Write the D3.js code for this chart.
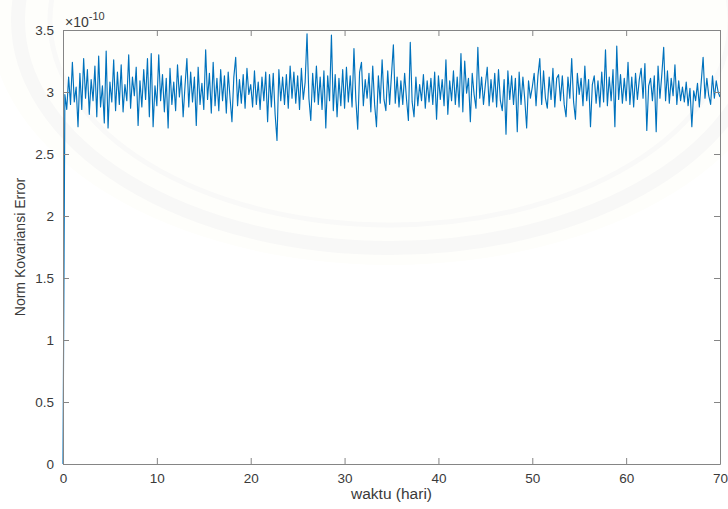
<!DOCTYPE html>
<html>
<head>
<meta charset="utf-8">
<script src="https://cdn.jsdelivr.net/npm/d3@7"></script>
<style>
  html, body { margin: 0; padding: 0; background: #ffffff; }
  svg { display: block; font-family: "Liberation Sans", Arial, Helvetica, sans-serif; }
</style>
</head>
<body>
<svg id="chart" width="728" height="509"></svg>
<script>
// Norm of the error covariance (in units of 1e-10), sampled every 0.2 day from day 0 to day 70.
const timeStep = 0.2;
const errorNorm = [
  0.00, 2.98, 2.86, 3.12, 2.90,
  3.24, 2.92, 3.04, 2.72, 3.15,
  2.86, 3.27, 2.95, 3.18, 2.82,
  3.10, 2.93, 3.21, 2.80, 3.29,
  2.88, 3.05, 2.75, 3.33, 2.71,
  3.08, 2.92, 3.26, 2.85, 3.16,
  2.90, 3.22, 2.84, 3.06, 2.93,
  3.30, 2.87, 3.12, 2.97, 3.20,
  2.73, 3.09, 2.88, 3.18, 2.94,
  3.27, 2.80, 3.31, 2.72, 3.05,
  2.89, 3.30, 2.93, 3.14, 2.84,
  3.11, 2.71, 3.19, 2.90, 3.08,
  2.85, 3.22, 2.96, 3.13, 2.80,
  3.05, 3.27, 2.88, 3.16, 2.92,
  3.12, 2.73, 3.20, 2.90, 3.07,
  2.86, 3.34, 2.94, 3.15, 2.83,
  3.24, 2.89, 3.11, 2.85, 3.18,
  2.93, 3.13, 2.83, 3.16, 2.95,
  2.76, 3.12, 3.28, 2.89, 3.10,
  2.91, 3.14, 2.87, 3.19, 2.98,
  3.06, 2.88, 3.17, 2.90, 3.08,
  2.86, 3.12, 2.93, 3.16, 2.76,
  3.14, 2.88, 3.15, 2.82, 2.61,
  3.18, 2.93, 3.12, 2.90, 3.14,
  2.87, 3.21, 2.95, 3.16, 2.91,
  3.13, 2.86, 3.19, 2.94, 3.08,
  3.47, 2.95, 2.77, 3.15, 2.92,
  3.21, 2.90, 3.12, 2.86, 3.17,
  2.71, 3.13, 2.93, 3.46, 2.85,
  3.14, 2.80, 3.11, 2.89, 3.18,
  2.87, 3.20, 2.92, 3.13, 2.88,
  3.35, 2.94, 2.70, 3.16, 3.24,
  2.89, 3.10, 2.95, 3.15, 2.84,
  3.21, 2.90, 2.72, 3.13, 2.91,
  3.26, 2.94, 2.85, 3.17, 2.90,
  3.14, 3.38, 2.91, 3.12, 2.88,
  3.09, 2.90, 3.15, 2.94, 2.77,
  3.40, 2.92, 2.80, 3.12, 2.89,
  3.06, 2.93, 3.14, 2.87, 3.09,
  2.92, 3.11, 2.90, 3.16, 2.78,
  3.13, 2.94, 3.10, 2.89, 3.26,
  2.82, 3.09, 2.93, 3.17, 2.90,
  3.12, 2.88, 3.31, 2.84, 3.25,
  2.99, 3.11, 2.76, 3.15, 2.98,
  2.87, 3.36, 2.95, 3.12, 2.90,
  3.06, 3.20, 2.89, 3.10, 2.92,
  3.15, 2.88, 3.18, 2.93, 2.85,
  3.10, 2.66, 3.17, 2.94, 3.13,
  2.90, 3.11, 2.68, 3.16, 2.90,
  3.12, 2.94, 2.71, 3.09, 2.95,
  3.04, 3.15, 2.89, 3.13, 3.27,
  2.90, 3.17, 2.95, 2.87, 3.12,
  2.94, 3.19, 2.88, 3.11, 3.14,
  2.93, 3.13, 2.90, 2.80, 3.12,
  2.95, 3.27, 2.92, 2.78, 3.15,
  2.98, 3.11, 2.89, 3.21, 2.93,
  3.10, 2.72, 3.06, 3.13, 2.91,
  3.09, 2.88, 3.16, 2.92, 3.34,
  2.89, 3.12, 2.93, 3.18, 2.72,
  3.37, 2.94, 3.14, 2.91, 3.11,
  2.93, 3.24, 2.90, 3.12, 2.88,
  3.15, 2.94, 3.10, 3.19, 2.95,
  3.23, 2.69, 3.05, 3.11, 2.93,
  3.13, 2.68, 3.21, 2.95, 3.14,
  3.36, 2.93, 3.17, 2.91, 3.11,
  2.97, 3.22, 2.90, 3.09, 2.93,
  3.04, 2.92, 3.08, 2.89, 3.03,
  2.72, 3.01, 2.93, 3.07, 2.88,
  3.08, 3.28, 2.95, 3.11, 2.97,
  2.90, 3.13, 2.95, 3.09, 3.00,
  2.96
];
const xTicks = [0, 10, 20, 30, 40, 50, 60, 70];
const yTicks = [0, 0.5, 1, 1.5, 2, 2.5, 3, 3.5];
const xLabel = "waktu (hari)";
const yLabel = "Norm Kovariansi Error";

const margin = { left: 63, right: 8, top: 30, bottom: 45 };
const W = 728, H = 509;
const svg = d3.select("#chart");

const x = d3.scaleLinear().domain([0, 70]).range([margin.left, W - margin.right]);
const y = d3.scaleLinear().domain([0, 3.5]).range([H - margin.bottom, margin.top]);

const axisColor = "#858585";
const textColor = "#3a3a3a";

// very faint emblem in the page background
const emblem = svg.append("g").attr("pointer-events", "none");
emblem.append("ellipse")
  .attr("cx", 390).attr("cy", 20).attr("rx", 400).attr("ry", 245)
  .attr("fill", "#fefefb");
emblem.append("ellipse")
  .attr("cx", 390).attr("cy", 20).attr("rx", 372).attr("ry", 228)
  .attr("fill", "none").attr("stroke", "#f8f8f7").attr("stroke-width", 14);
emblem.append("ellipse")
  .attr("cx", 390).attr("cy", 20).attr("rx", 340).attr("ry", 205)
  .attr("fill", "none").attr("stroke", "#f9f9f8").attr("stroke-width", 5);

const series = errorNorm.map((v, i) => ({ t: i * timeStep, v }));

// data line
svg.append("path")
  .datum(series)
  .attr("fill", "none")
  .attr("stroke", "#0072BD")
  .attr("stroke-width", 1.15)
  .attr("stroke-linejoin", "round")
  .attr("d", d3.line().x(d => x(d.t)).y(d => y(d.v)));

// axes with inward ticks on all four sides (boxed frame)
function styleAxis(g) {
  g.selectAll("path").attr("stroke", axisColor).attr("stroke-width", 1);
  g.selectAll("line").attr("stroke", axisColor);
  g.selectAll("text").attr("fill", textColor).style("font-size", "13.5px");
}

svg.append("g")
  .attr("transform", `translate(0,${y(0)})`)
  .call(d3.axisBottom(x).tickValues(xTicks).tickSizeInner(-6).tickSizeOuter(0).tickPadding(9).tickFormat(d3.format("d")))
  .call(styleAxis)
  .call(g => g.selectAll("text").attr("dy", "0.71em"));

svg.append("g")
  .attr("transform", `translate(0,${y(3.5)})`)
  .call(d3.axisTop(x).tickValues(xTicks).tickSizeInner(-6).tickSizeOuter(0).tickFormat(""))
  .call(styleAxis);

svg.append("g")
  .attr("transform", `translate(${x(0)},0)`)
  .call(d3.axisLeft(y).tickValues(yTicks).tickSizeInner(-6).tickSizeOuter(0).tickPadding(9).tickFormat(d => d3.format("")(d)))
  .call(styleAxis);

svg.append("g")
  .attr("transform", `translate(${x(70)},0)`)
  .call(d3.axisRight(y).tickValues(yTicks).tickSizeInner(-6).tickSizeOuter(0).tickFormat(""))
  .call(styleAxis);

// exponent marker above the y axis
const expo = svg.append("text")
  .attr("x", x(0) + 2)
  .attr("y", y(3.5) - 3)
  .attr("fill", textColor)
  .style("font-size", "14px");
expo.append("tspan").text("\u00d710");
expo.append("tspan").attr("dy", -7).style("font-size", "11px").text("-10");

// axis titles
svg.append("text")
  .attr("x", (x(0) + x(70)) / 2)
  .attr("y", 499)
  .attr("text-anchor", "middle")
  .attr("fill", textColor)
  .style("font-size", "15.5px")
  .text(xLabel);

svg.append("text")
  .attr("transform", `translate(25,${(y(0) + y(3.5)) / 2}) rotate(-90)`)
  .attr("text-anchor", "middle")
  .attr("fill", textColor)
  .style("font-size", "14px")
  .text(yLabel);
</script>
</body>
</html>
